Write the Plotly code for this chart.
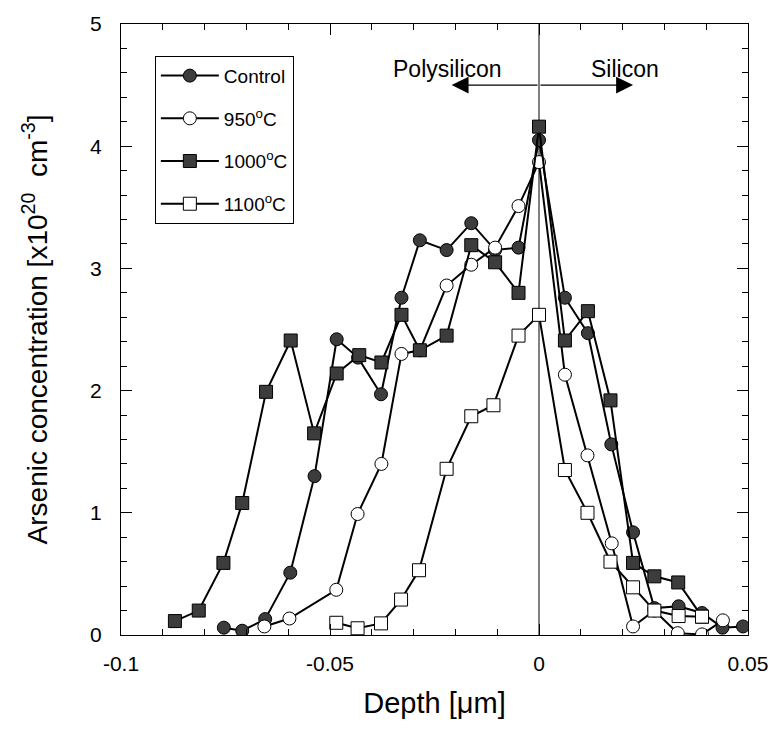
import plotly.graph_objects as go

# ---- data (depth in µm, concentration in 1e20 cm^-3) ----
ctrl_x = [-0.0754, -0.0710, -0.0655, -0.0595, -0.0537, -0.0484, -0.0433, -0.0378, -0.0329, -0.0285,
          -0.0221, -0.0162, -0.0105, -0.0049, 0.0, 0.0062, 0.0117, 0.0173, 0.0225, 0.0276, 0.0334,
          0.0390, 0.0439, 0.0488]
ctrl_y = [0.06, 0.035, 0.13, 0.51, 1.30, 2.42, 2.27, 1.97, 2.76, 3.23,
          3.15, 3.37, 3.15, 3.17, 4.05, 2.76, 2.47, 1.56, 0.84, 0.22, 0.235,
          0.18, 0.06, 0.07]

c950_x = [-0.0657, -0.0597, -0.0485, -0.0434, -0.0377, -0.0329, -0.0285, -0.0221, -0.0162, -0.0105,
          -0.0049, 0.0, 0.0062, 0.0116, 0.0174, 0.0225, 0.0276, 0.0332, 0.0390, 0.0440]
c950_y = [0.07, 0.135, 0.37, 0.99, 1.40, 2.30, 2.33, 2.86, 3.03, 3.17,
          3.51, 3.87, 2.13, 1.47, 0.75, 0.07, 0.20, 0.015, 0.005, 0.12]

c1000_x = [-0.0871, -0.0814, -0.0755, -0.0710, -0.0653, -0.0594, -0.0538, -0.0484, -0.0430, -0.0377,
           -0.0329, -0.0285, -0.0221, -0.0162, -0.0105, -0.0049, 0.0, 0.0062, 0.0117, 0.0171,
           0.0225, 0.0276, 0.0333, 0.0390]
c1000_y = [0.114, 0.20, 0.59, 1.08, 1.99, 2.41, 1.65, 2.14, 2.29, 2.23,
           2.62, 2.33, 2.45, 3.19, 3.05, 2.80, 4.16, 2.41, 2.65, 1.92,
           0.59, 0.48, 0.43, 0.15]

c1100_x = [-0.0485, -0.0434, -0.0378, -0.0330, -0.0287, -0.0221, -0.0162, -0.0109, -0.0049, 0.0,
           0.0062, 0.0116, 0.0171, 0.0225, 0.0276, 0.0334, 0.0390]
c1100_y = [0.10, 0.055, 0.095, 0.29, 0.53, 1.36, 1.79, 1.88, 2.45, 2.62,
           1.35, 1.00, 0.60, 0.39, 0.20, 0.155, 0.15]

series_names = ["Control", "950<sup>o</sup>C", "1000<sup>o</sup>C", "1100<sup>o</sup>C"]
x_ticks = [-0.1, -0.05, 0, 0.05]
x_ticklabels = ["-0.1", "-0.05", "0", "0.05"]
y_ticks = [0, 1, 2, 3, 4, 5]

FONT = "Arial, Liberation Sans, Helvetica, sans-serif"
DARK = "#3c3c3c"

fig = go.Figure()

styles = [
    (ctrl_x, ctrl_y, "circle", DARK),
    (c950_x, c950_y, "circle", "white"),
    (c1000_x, c1000_y, "square", DARK),
    (c1100_x, c1100_y, "square", "white"),
]
for i, (xs, ys, sym, fill) in enumerate(styles):
    fig.add_trace(go.Scatter(
        x=xs, y=ys, mode="lines+markers", name=series_names[i],
        legendgroup=f"g{i}",
        line=dict(color="black", width=2),
        marker=dict(symbol=sym, size=13, color=fill,
                    line=dict(color="black", width=1)),
    ))

# vertical interface line at depth 0
fig.add_shape(type="line", xref="x", yref="y", x0=0, x1=0, y0=0, y1=5,
              line=dict(color="black", width=1), layer="below")

# double arrow + labels
arrow_y = 4.50
for tip in (-0.0209, 0.0225):
    fig.add_annotation(x=tip, y=arrow_y, ax=0, ay=arrow_y, xref="x", yref="y",
                       axref="x", ayref="y", text="", showarrow=True, arrowhead=2,
                       arrowsize=2.6, arrowwidth=1.3, arrowcolor="black")
fig.add_annotation(x=-0.0220, y=4.635, xref="x", yref="y", text="Polysilicon",
                   showarrow=False, font=dict(family=FONT, size=23, color="black"))
fig.add_annotation(x=0.0205, y=4.635, xref="x", yref="y", text="Silicon",
                   showarrow=False, font=dict(family=FONT, size=23, color="black"))

axis_common = dict(
    showline=True, linecolor="black", linewidth=1.2, mirror="ticks",
    ticks="inside", tickcolor="black", ticklen=11, tickwidth=1.2,
    showgrid=False, zeroline=False,
    tickfont=dict(family=FONT, size=21, color="black"),
)

fig.update_xaxes(
    range=[-0.1, 0.05], tickvals=x_ticks, ticktext=x_ticklabels,
    ticklabelstandoff=10,
    minor=dict(dtick=0.01, tick0=0, ticks="inside", ticklen=6, tickcolor="black", tickwidth=1),
    title=dict(text="Depth [μm]", font=dict(family=FONT, size=29, color="black"), standoff=18),
    **axis_common,
)
fig.update_yaxes(
    range=[0, 5], tickvals=y_ticks,
    ticklabelstandoff=14,
    minor=dict(dtick=0.2, tick0=0, ticks="inside", ticklen=6, tickcolor="black", tickwidth=1),
    title=dict(text="Arsenic concentration [x10<sup>20</sup>  cm<sup>-3</sup>]",
               font=dict(family=FONT, size=28, color="black"), standoff=34),
    **axis_common,
)

fig.update_layout(
    width=780, height=733,
    margin=dict(l=121, r=30, t=18, b=98),
    paper_bgcolor="white", plot_bgcolor="white",
    font=dict(family=FONT, color="black"),
    legend=dict(
        x=0.054, y=0.948, xanchor="left", yanchor="top",
        bgcolor="white", bordercolor="black", borderwidth=1,
        font=dict(family=FONT, size=19, color="black"),
        traceorder="grouped", tracegroupgap=15, itemwidth=58,
    ),
)

fig.write_html("out.html")
